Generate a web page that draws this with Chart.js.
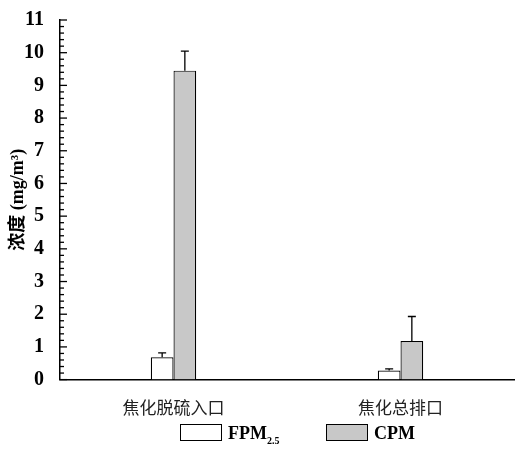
<!DOCTYPE html>
<html>
<head>
<meta charset="utf-8">
<script src="https://cdn.jsdelivr.net/npm/chart.js@4"></script>
<style>
  body { margin: 0; background: #fff; }
  #wrap { position: relative; width: 524px; height: 450px; }
  #legend { position: absolute; left: 180px; top: 423px; width: 344px;
    font-family: "Liberation Serif", serif; font-weight: bold; font-size: 18px; }
  .sw { display: inline-block; width: 40px; height: 15px; border: 1.5px solid #000; vertical-align: -2px; margin-right: 6px; }
  sub { font-size: 10px; }
</style>
</head>
<body>
<div id="wrap">
  <canvas id="myChart" width="524" height="428"></canvas>
  <div id="legend">
    <span class="sw" style="background:#fff"></span>FPM<sub>2.5</sub>
    <span class="sw" style="background:#c8c8c8;margin-left:42px"></span>CPM
  </div>
</div>
<script>
const categories = ['焦化脱硫入口', '焦化总排口'];
const fpmValues = [0.68, 0.28];
const fpmErrors = [0.14, 0.05];
const cpmValues = [9.45, 1.18];
const cpmErrors = [0.6, 0.75];
const yTicks = [0, 1, 2, 3, 4, 5, 6, 7, 8, 9, 10, 11];

// error bars (upper only) and inward ticks
const extras = {
    id: 'extras',
    afterDatasetsDraw(chart) {
        const ctx = chart.ctx;
        const y = chart.scales.y;
        const errs = [fpmErrors, cpmErrors];
        ctx.save();
        ctx.strokeStyle = '#000';
        ctx.lineWidth = 1.3;
        chart.data.datasets.forEach((ds, di) => {
            chart.getDatasetMeta(di).data.forEach((bar, i) => {
                const top = y.getPixelForValue(ds.data[i] + errs[di][i]);
                ctx.beginPath();
                ctx.moveTo(bar.x, bar.y);
                ctx.lineTo(bar.x, top);
                ctx.moveTo(bar.x - 4, top);
                ctx.lineTo(bar.x + 4, top);
                ctx.stroke();
            });
        });
        const left = chart.chartArea.left;
        for (let v = 0; v <= 11.001; v += 0.2) {
            const major = Math.abs(v - Math.round(v)) < 0.01;
            const py = y.getPixelForValue(v);
            ctx.beginPath();
            ctx.moveTo(left, py);
            ctx.lineTo(left + (major ? 7 : 4), py);
            ctx.stroke();
        }
        ctx.restore();
    }
};

new Chart(document.getElementById('myChart'), {
    type: 'bar',
    data: {
        labels: categories,
        datasets: [{
            label: 'FPM2.5',
            data: fpmValues,
            backgroundColor: '#ffffff',
            borderColor: '#000',
            borderWidth: 1.2
        }, {
            label: 'CPM',
            data: cpmValues,
            backgroundColor: '#c8c8c8',
            borderColor: '#000',
            borderWidth: 1.2
        }]
    },
    options: {
        responsive: false,
        animation: false,
        layout: { padding: { top: 20, right: 10, left: 8, bottom: 0 } },
        plugins: { legend: { display: false }, tooltip: { enabled: false } },
        datasets: { bar: { categoryPercentage: 0.2, barPercentage: 1.0 } },
        scales: {
            x: {
                grid: { display: false },
                border: { color: '#000', width: 1.5 },
                ticks: { color: '#222', padding: 10, font: { family: '"Noto Sans CJK SC"', size: 17 } }
            },
            y: {
                min: 0, max: 11,
                afterFit: s => { s.width = 52; },
                afterBuildTicks: s => { s.ticks = yTicks.map(v => ({ value: v })); },
                grid: { display: false },
                border: { color: '#000', width: 1.5 },
                ticks: { color: '#000', padding: 8, font: { family: '"Liberation Serif"', weight: 'bold', size: 20 } },
                title: {
                    display: true,
                    text: '浓度 (mg/m³)',
                    color: '#000',
                    padding: { top: 0, bottom: 4 },
                    font: { family: '"Liberation Serif", "Noto Sans CJK SC"', weight: 'bold', size: 18 }
                }
            }
        }
    },
    plugins: [extras]
});
</script>
</body>
</html>
